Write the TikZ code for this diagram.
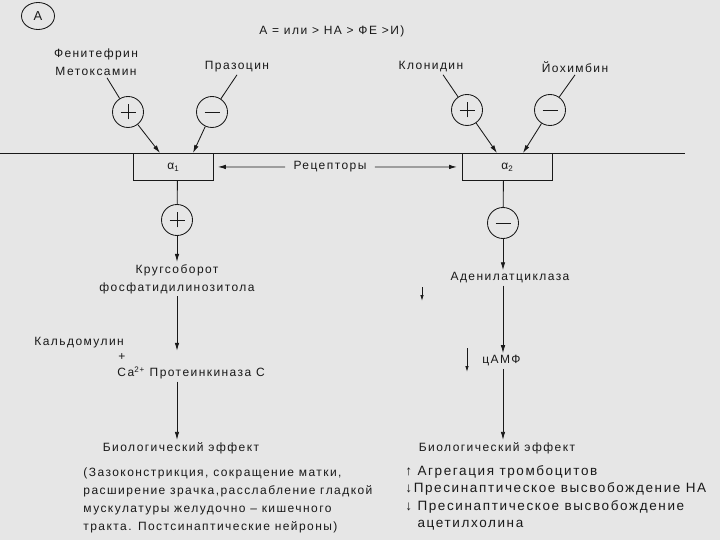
\documentclass[tikz,border=0pt]{standalone}
\usepackage{fontspec}
\setmainfont{Liberation Sans}[LetterSpace=12]
\usetikzlibrary{arrows.meta,shapes.geometric}
\definecolor{paper}{RGB}{230,230,230}
\definecolor{ink}{RGB}{25,25,25}
\begin{document}
\begin{tikzpicture}[x=1pt,y=-1pt,line width=0.85pt,
  every node/.style={text=ink},
  txt/.style={font=\fontsize{12}{18}\selectfont, inner sep=2pt},
  arr/.style={draw=ink,-{Latex[length=8pt,width=4.5pt]}},
  arrsmall/.style={draw=ink,-{Latex[length=6pt,width=3.5pt]}},
  ln/.style={draw=ink},
  sgn/.style={circle,draw=ink,minimum size=31pt,inner sep=0pt},
  sgnplus/.style={sgn,path picture={\draw[ink,line width=0.8pt] ([xshift=-7.5pt]path picture bounding box.center) -- ([xshift=7.5pt]path picture bounding box.center) ([yshift=-7.5pt]path picture bounding box.center) -- ([yshift=7.5pt]path picture bounding box.center);}},
  sgnminus/.style={sgn,path picture={\draw[ink,line width=0.8pt] ([xshift=-7.5pt]path picture bounding box.center) -- ([xshift=7.5pt]path picture bounding box.center);}},
  rbox/.style={draw=ink,minimum height=27pt,inner sep=0pt,anchor=north west,font=\fontsize{12}{14}\selectfont}]
\fill[paper] (0,0) rectangle (720,540);
\useasboundingbox (0,0) rectangle (720,540);

% header
\node[ellipse,draw=ink,minimum width=33pt,minimum height=27pt,inner sep=0pt] (circA) at (38,16) {\fontsize{13}{14}\selectfont А};
\node[txt,anchor=west] (title) at (257,31) {А = или > НА > ФЕ >И)};

% agonists / antagonists
\node[txt,align=center] (fen) at (96,62) {Фенитефрин\\Метоксамин};
\node[txt] (praz) at (237,67) {Празоцин};
\node[txt] (klon) at (431,67) {Клонидин};
\node[txt] (yoh) at (575,67) {Йохимбин};

\node[sgnplus] (p1) at (128,112) {};
\node[sgnminus] (m1) at (212,112) {};
\node[sgnplus] (p2) at (467,110) {};
\node[sgnminus] (m2) at (550,110) {};

% receptors
\node[rbox,minimum width=80pt] (a1) at (133,153) {α\textsubscript{1}};
\node[rbox,minimum width=90pt] (a2) at (462,153) {α\textsubscript{2}};
\coordinate (memL) at (0,153);
\coordinate (memR) at (685,153);
\draw[ln] (memL) -- (memR);
\node[txt] (rec) at (330,167) {Рецепторы};
\draw[arr,shorten >=4pt] ([xshift=-6pt]rec.west) -- (a1.east);
\draw[arr,shorten >=5pt] ([xshift=6pt]rec.east) -- (a2.west);

\draw[ln] ([xshift=11pt]fen.south) -- (p1);
\draw[arr] (p1) -- ([xshift=27pt]a1.north west);
\draw[ln] (praz.south) -- (m1);
\draw[arr] (m1) -- ([xshift=60pt]a1.north west);
\draw[ln] ([xshift=12pt]klon.south) -- (p2);
\draw[arr] (p2) -- ([xshift=35pt]a2.north west);
\draw[ln] (yoh.south) -- (m2);
\draw[arr] (m2) -- ([xshift=61pt]a2.north west);

% left chain
\node[sgnplus] (p3) at (177,220) {};
\draw[ln] ([xshift=4pt]a1.south) -- (p3);
\node[txt,align=center] (krug) at (177,279) {Кругсоборот\\фосфатидилинозитола};
\draw[arr] (p3) -- (p3 |- krug.north);
\node[txt,anchor=west] (kald) at (32,343) {Кальдомулин};
\draw[arr] (p3 |- krug.south) -- (p3 |- kald.south);
\node[txt] (plusCa) at (122,357) {+};
\node[txt,anchor=west] (prot) at (115,373) {Са\textsuperscript{2+} Протеинкиназа С};
\node[txt] (bio1) at (181,448) {Биологический эффект};
\draw[arr] (p3 |- prot.south) -- (p3 |- bio1.north);
\node[txt,anchor=north west,align=left] (para) at (81,465) {(Зазоконстрикция, сокращение матки,\\расширение зрачка,расслабление гладкой\\мускулатуры желудочно – кишечного\\тракта. Постсинаптические нейроны)};

% right chain
\node[sgnminus] (m3) at (503,223) {};
\draw[ln] ([xshift=-4pt]a2.south) -- (m3);
\node[txt] (aden) at (510,278) {Аденилатциклаза};
\draw[arr] (m3) -- (m3 |- aden.north);
\node[txt,anchor=west] (camp) at (480,361) {цАМФ};
\draw[arr] (m3 |- aden.south) -- (m3 |- camp.north);
\node[txt] (bio2) at (497,448) {Биологический эффект};
\draw[arr] (m3 |- camp.south) -- (m3 |- bio2.north);
\coordinate (sa1) at (422,287);
\coordinate (sa2) at (422,301);
\draw[arrsmall] (sa1) -- (sa2);
\coordinate (sc1) at (467,348);
\coordinate (sc2) at (467,372);
\draw[arrsmall] (sc1) -- (sc2);
\node[txt,anchor=north west,align=left,font=\fontsize{13.5}{17.5}\selectfont] (list) at (403,463) {↑ Агрегация тромбоцитов\\↓Пресинаптическое высвобождение НА\\↓ Пресинаптическое высвобождение\\\hspace*{0.9em}ацетилхолина};
\end{tikzpicture}
\end{document}
